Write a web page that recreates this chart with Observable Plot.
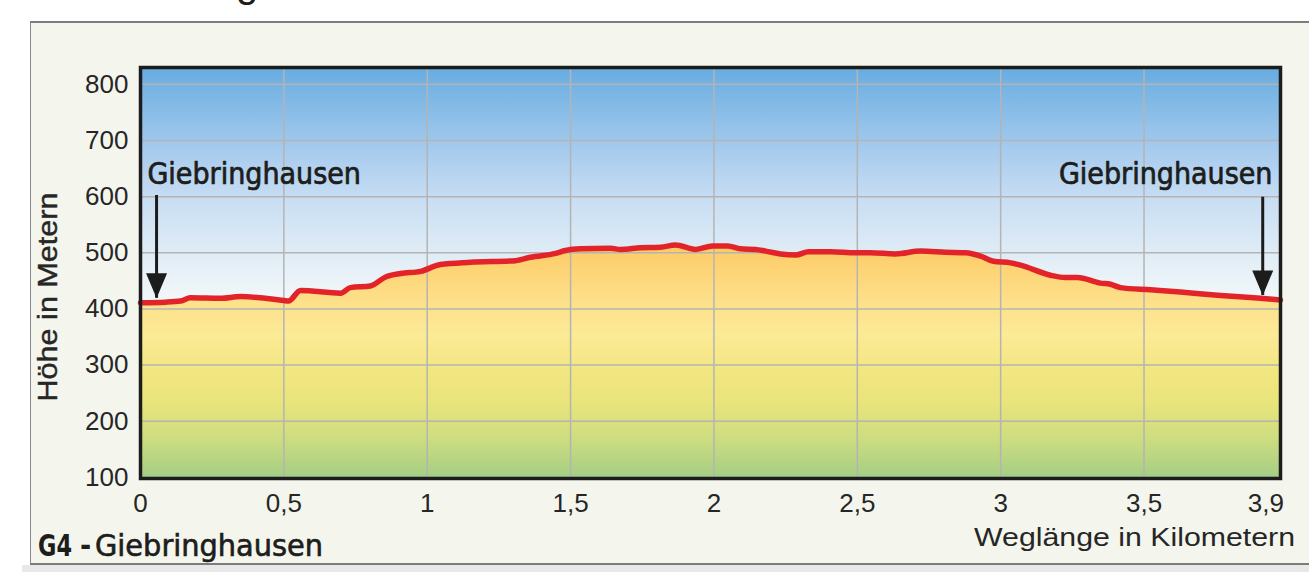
<!DOCTYPE html>
<html>
<head>
<meta charset="utf-8">
<script src="https://cdn.jsdelivr.net/npm/d3@7"></script>
<script src="https://cdn.jsdelivr.net/npm/@observablehq/plot@0.6"></script>
<style>
  html, body { margin: 0; padding: 0; background: #ffffff; width: 1309px; height: 572px; overflow: hidden; }
  #shadow { position: absolute; left: 22px; top: 565px; width: 1300px; height: 7px; background: #e8e8e8; }
  #panel { position: absolute; left: 30px; top: 21px; width: 1290px; height: 544px; box-sizing: border-box;
           background: #f4f6ee; border-top: 2px solid #7c7c7c; border-left: 1.5px solid #8a8a8a; border-bottom: 2px solid #7c7c7c; }
  #chart { position: absolute; left: 0; top: 0; }
</style>
</head>
<body>
<div id="shadow"></div>
<div id="panel"></div>
<div id="chart"></div>
<script>
// ---- data ----
const distanceKm = [0, 0.087, 0.14, 0.174, 0.279, 0.349, 0.499, 0.516, 0.558, 0.698, 0.732, 0.802, 0.855, 0.907, 0.977,
  1.046, 1.151, 1.308, 1.36, 1.448, 1.482, 1.535, 1.639, 1.674, 1.744, 1.814, 1.866, 1.936, 1.995,
  2.048, 2.093, 2.145, 2.18, 2.232, 2.285, 2.33, 2.407, 2.494, 2.546, 2.633, 2.721, 2.808, 2.878, 2.93, 2.975,
  3.035, 3.069, 3.174, 3.226, 3.268, 3.348, 3.383, 3.418, 3.523, 3.627, 3.767, 3.906, 3.976];
const elevationM = [411, 412, 414, 420, 419, 422, 415, 414, 433, 428, 438, 441, 457, 463, 467,
  479, 483, 486, 492, 499, 504, 507, 508, 506, 509, 510, 514, 506, 512,
  512, 507, 506, 503, 498, 496, 502, 502, 500, 500, 498, 503, 501, 500, 494, 485,
  482, 478, 460, 456, 456, 446, 444, 438, 434, 430, 424, 419, 416];

const yTicks = [100, 200, 300, 400, 500, 600, 700, 800];
const xGridKm = [0.5, 1, 1.5, 2, 2.5, 3, 3.5];
const xTickKm = [0, 0.5, 1, 1.5, 2, 2.5, 3, 3.5, 3.925];
const xTickLabels = ["0", "0,5", "1", "1,5", "2", "2,5", "3", "3,5", "3,9"];

const placeNames = ["Giebringhausen", "Giebringhausen"];
const placeKm = [0.024, 3.948];
const placeElev = [623, 623];
const placeAnchor = ["start", "end"];

const arrowKm = [0.056, 3.914];
const arrowTopElev = [602, 599];
const arrowTipElev = [419, 424];

const yAxisTitle = "Höhe in Metern";
const xAxisTitle = "Weglänge in Kilometern";
const captionCode = "G4";
const captionDash = "-";
const captionName = "Giebringhausen";

// ---- tables ----
const profile = distanceKm.map((d, i) => ({km: d, elev: elevationM[i]}));
const places = placeNames.map((n, i) => ({name: n, km: placeKm[i], elev: placeElev[i], anchor: placeAnchor[i]}));
const arrows = arrowKm.map((d, i) => ({km: d, top: arrowTopElev[i], tip: arrowTipElev[i]}));

const yMin = 98, yMax = 830;
const narrow = "'DejaVu Sans Condensed', 'Liberation Sans Narrow', 'Liberation Sans', sans-serif";
const sans = "'Liberation Sans', Arial, sans-serif";

const arrowHead = {
  draw(context) {
    context.moveTo(-10.5, -25);
    context.lineTo(10.5, -25);
    context.lineTo(0, 0);
    context.closePath();
  }
};

const svg = Plot.plot({
  width: 1309,
  height: 572,
  marginLeft: 140,
  marginRight: 29,
  marginTop: 67,
  marginBottom: 94,
  style: {background: "transparent", fontFamily: sans, fontSize: "26px", color: "#262626"},
  x: {domain: [0, 3.976]},
  y: {domain: [yMin, yMax]},
  marks: [
    Plot.frame({fill: "url(#skyGrad)", stroke: "none"}),
    Plot.areaY(profile, {x: "km", y1: yMin, y2: "elev", fill: "url(#groundGrad)", curve: "monotone-x"}),
    Plot.gridY(yTicks, {stroke: "#b4b4b4", strokeOpacity: 1, strokeWidth: 1.5}),
    Plot.gridX(xGridKm, {stroke: "#b4b4b4", strokeOpacity: 1, strokeWidth: 1.5}),
    Plot.line(profile, {x: "km", y: "elev", stroke: "#e2242a", strokeWidth: 5.5, curve: "monotone-x", strokeLinejoin: "round", strokeLinecap: "round"}),
    Plot.frame({stroke: "#1c1c1c", strokeWidth: 3.5}),
    Plot.axisY(yTicks, {tickSize: 0, tickPadding: 12, label: null, fontSize: 26, fill: "#262626"}),
    Plot.axisX(xTickKm, {tickSize: 0, tickPadding: 15, label: null, fontSize: 26, fill: "#262626",
      tickFormat: (d) => xTickLabels[xTickKm.indexOf(d)]}),
    Plot.ruleX(arrows, {x: "km", y1: "top", y2: "tip", stroke: "#1c1c1c", strokeWidth: 3}),
    Plot.dot(arrows, {x: "km", y: "tip", symbol: arrowHead, r: 5, fill: "#1c1c1c", stroke: "none"}),
    Plot.text(places, {x: "km", y: "elev", text: "name", textAnchor: "start", lineAnchor: "bottom",
      fontSize: 30, fill: "#1d1d1b", stroke: "#1d1d1b", strokeWidth: 0.7, fontFamily: narrow,
      ariaLabel: "place-label", filter: (d) => d.anchor === "start"}),
    Plot.text(places, {x: "km", y: "elev", text: "name", textAnchor: "end", lineAnchor: "bottom",
      fontSize: 30, fill: "#1d1d1b", stroke: "#1d1d1b", strokeWidth: 0.7, fontFamily: narrow,
      ariaLabel: "place-label", filter: (d) => d.anchor === "end"})
  ]
});

// gradients (styling only)
const root = d3.select(svg);
const defs = root.insert("defs", ":first-child");
const sky = defs.append("linearGradient").attr("id", "skyGrad").attr("gradientUnits", "userSpaceOnUse")
  .attr("x1", 0).attr("x2", 0).attr("y1", 67).attr("y2", 478);
[[0, "#67ace0"], [0.2, "#a6cbee"], [0.33, "#cadff3"], [0.45, "#dfecf5"], [0.57, "#f3f8fa"], [0.7, "#ffffff"], [1, "#ffffff"]]
  .forEach(([o, c]) => sky.append("stop").attr("offset", o).attr("stop-color", c));
const ground = defs.append("linearGradient").attr("id", "groundGrad").attr("gradientUnits", "userSpaceOnUse")
  .attr("x1", 0).attr("x2", 0).attr("y1", 67).attr("y2", 478);
[[0, "#fcc35a"], [0.45, "#fdcd6a"], [0.57, "#fde08a"], [0.65, "#fcea96"], [0.75, "#f1e680"], [0.82, "#e8e47b"], [0.9, "#cfdd80"], [1, "#a3ce85"]]
  .forEach(([o, c]) => ground.append("stop").attr("offset", o).attr("stop-color", c));

root.selectAll('g[aria-label="place-label"] text')
  .attr("textLength", 215).attr("lengthAdjust", "spacingAndGlyphs");

// axis titles, caption, cut-off title glyph
root.append("text").attr("transform", "translate(57,297) rotate(-90)")
  .attr("text-anchor", "middle").attr("font-size", 27).attr("fill", "#262626")
  .attr("font-family", sans).attr("stroke", "#262626").attr("stroke-width", 0.4)
  .attr("textLength", 209).attr("lengthAdjust", "spacingAndGlyphs").text(yAxisTitle);

root.append("text").attr("x", 1295).attr("y", 546).attr("text-anchor", "end")
  .attr("font-size", 26).attr("fill", "#262626").attr("font-family", sans)
  .attr("textLength", 321).attr("lengthAdjust", "spacingAndGlyphs").text(xAxisTitle);

root.append("text").attr("x", 38).attr("y", 556).attr("text-anchor", "start")
  .attr("font-size", 31).attr("font-weight", "bold").attr("fill", "#1d1d1b").attr("font-family", narrow)
  .attr("textLength", 34).attr("lengthAdjust", "spacingAndGlyphs").text(captionCode);
root.append("text").attr("x", 80).attr("y", 556).attr("text-anchor", "start")
  .attr("font-size", 30).attr("font-weight", "bold").attr("fill", "#1d1d1b").attr("font-family", narrow).text(captionDash);
root.append("text").attr("x", 95).attr("y", 556).attr("text-anchor", "start")
  .attr("font-size", 30).attr("fill", "#1d1d1b").attr("stroke", "#1d1d1b").attr("stroke-width", 0.6)
  .attr("font-family", narrow)
  .attr("textLength", 228).attr("lengthAdjust", "spacingAndGlyphs").text(captionName);

root.append("text").attr("x", 236).attr("y", -3).attr("text-anchor", "start")
  .attr("font-size", 40).attr("fill", "#1d1d1b").attr("font-family", sans).text("g");

document.getElementById("chart").appendChild(svg);
</script>
</body>
</html>
